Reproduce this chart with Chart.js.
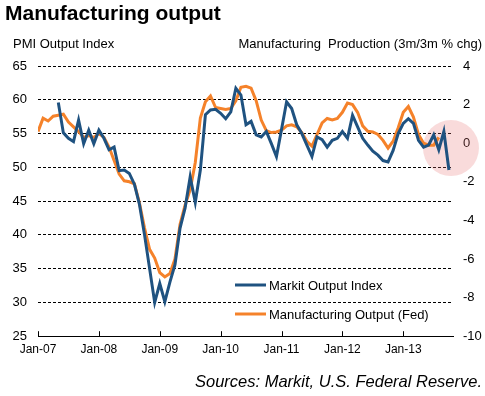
<!DOCTYPE html>
<html><head><meta charset="utf-8">
<script src="https://cdn.jsdelivr.net/npm/chart.js@4"></script>
<style>html,body{margin:0;padding:0;background:#fff;}#wrap{width:485px;height:396px;}</style>
</head><body><div id="wrap"><canvas id="c" width="485" height="396"></canvas></div>
<script>
// ---- data (month index 0 = Jan-07) ----
const yearTickLabels = ['Jan-07','Jan-08','Jan-09','Jan-10','Jan-11','Jan-12','Jan-13'];
const markitLabel = 'Markit Output Index';
const markitStartMonth = 4;
const markitOutputIndex = [
  59.6,55.1,54.3,53.8,57.0,53.5,55.5,53.5,55.5,54.3,
  52.6,53.0,49.5,49.6,49.1,47.5,44.5,40.0,35.0,30.0,
  32.8,30.1,33.0,35.6,41.0,44.0,48.6,44.8,49.6,57.8,
  58.5,58.6,58.0,57.2,58.2,61.7,60.7,56.3,56.8,54.8,
  54.5,55.3,53.5,51.6,55.6,59.7,58.7,56.3,55.0,53.3,
  51.6,54.5,54.1,53.0,54.0,54.3,55.3,54.3,57.7,56.0,
  54.3,53.3,52.4,51.8,51.0,50.8,52.5,55.0,56.5,57.2,
  56.5,54.0,53.0,53.3,54.8,52.6,55.3,49.6];
const fedLabel = 'Manufacturing Output (Fed)';
const fedStartMonth = 0;
const fedManufacturingOutput = [
  0.6,1.3,1.15,1.4,1.45,1.5,1.1,0.85,0.6,0.3,
  0.4,0.3,0.5,0.3,-0.2,-0.9,-1.6,-1.95,-2.0,-2.1,
  -3.1,-4.4,-5.5,-5.95,-6.7,-6.93,-6.75,-6.0,-4.2,-3.2,
  -2.4,-1.0,1.3,2.15,2.45,1.85,1.8,1.75,1.8,2.2,
  2.9,2.95,2.85,2.2,1.2,0.65,0.55,0.58,0.67,0.9,
  0.95,0.85,0.55,0.1,-0.15,0.45,1.05,1.28,1.2,1.28,
  1.6,2.08,2.0,1.6,0.9,0.62,0.58,0.45,0.15,-0.25,
  0.1,0.8,1.6,1.9,1.35,0.45,0.0,-0.1,-0.1,0.3];
const leftAxisTitle = 'PMI Output Index';
const rightAxisTitle = 'Manufacturing  Production (3m/3m % chg)';
const chartTitle = 'Manufacturing output';
const sourceNote = 'Sources: Markit, U.S. Federal Reserve.';
const highlightMonth = 81.4, highlightLevel = 52.85;

// ---- styling ----
const FONT = '"Liberation Sans", Arial, sans-serif';
const BLUE = '#1F5280', ORANGE = '#F5822A';

const toPts = (start, arr) => arr.map((v, i) => ({x: start + i, y: v}));

const extras = {
  id: 'extras',
  beforeDatasetsDraw(chart) {
    const {ctx, scales} = chart;
    const cx = scales.x.getPixelForValue(highlightMonth);
    const cy = scales.yL.getPixelForValue(highlightLevel);
    ctx.save();
    ctx.fillStyle = 'rgba(232,110,110,0.25)';
    ctx.beginPath(); ctx.arc(cx, cy, 28, 0, Math.PI * 2); ctx.fill();
    ctx.restore();
  },
  afterDatasetsDraw(chart) {
    const {ctx, chartArea: ca, scales} = chart;
    ctx.save();
    ctx.strokeStyle = '#000'; ctx.lineWidth = 1;
    scales.x.ticks.forEach(t => {
      const x = Math.round(scales.x.getPixelForValue(t.value)) + 0.5;
      ctx.beginPath(); ctx.moveTo(x, ca.bottom); ctx.lineTo(x, ca.bottom - 5); ctx.stroke();
    });
    ctx.font = '13px ' + FONT; ctx.textBaseline = 'middle'; ctx.textAlign = 'left';
    chart.data.datasets.forEach((ds, i) => {
      const y = ca.top + 219 + i * 29;
      const x0 = ca.left + 197;
      ctx.strokeStyle = ds.borderColor; ctx.lineWidth = 3;
      ctx.beginPath(); ctx.moveTo(x0, y); ctx.lineTo(x0 + 31, y); ctx.stroke();
      ctx.fillStyle = '#000';
      ctx.fillText(ds.label, x0 + 34, y + 1);
    });
    ctx.font = '13px ' + FONT;
    ctx.fillStyle = '#000';
    ctx.textAlign = 'left';
    ctx.fillText(leftAxisTitle, 13, ca.top - 22);
    ctx.textAlign = 'right';
    ctx.fillText(rightAxisTitle, 482, ca.top - 22);
    ctx.restore();
  }
};

new Chart(document.getElementById('c'), {
  type: 'line',
  data: {
    datasets: [
      {label: markitLabel, data: toPts(markitStartMonth, markitOutputIndex), yAxisID: 'yL',
       borderColor: BLUE, borderWidth: 3, pointRadius: 0, tension: 0, fill: false},
      {label: fedLabel, data: toPts(fedStartMonth, fedManufacturingOutput), yAxisID: 'yR',
       borderColor: ORANGE, borderWidth: 3, pointRadius: 0, tension: 0, fill: false}
    ]
  },
  options: {
    responsive: false, animation: false, devicePixelRatio: 1,
    layout: {padding: {left: 5, right: 3, top: 0, bottom: 0}},
    plugins: {
      legend: {display: false},
      tooltip: {enabled: false},
      title: {display: true, text: chartTitle, align: 'start', color: '#000',
        font: {family: FONT, size: 21, weight: 'bold'}, padding: {top: 2, bottom: 38.8}},
      subtitle: {display: true, text: sourceNote, position: 'bottom', align: 'end', color: '#000',
        font: {family: FONT, size: 16.5, style: 'italic'}, padding: {top: 12, bottom: 4}}
    },
    scales: {
      x: {type: 'linear', min: 0, max: 81.8,
        afterBuildTicks: s => { s.ticks = yearTickLabels.map((_, i) => ({value: i * 12})); },
        afterFit: s => { s.height = 24; },
        ticks: {autoSkip: false, maxRotation: 0, padding: 6, color: '#000',
          font: {family: FONT, size: 12}, callback: v => yearTickLabels[Math.round(v / 12)]},
        grid: {drawOnChartArea: false, drawTicks: false},
        border: {display: true, color: '#000', width: 1}},
      yL: {position: 'left', min: 25, max: 65,
        afterFit: s => { s.width = 33; },
        ticks: {stepSize: 5, padding: 11, color: '#000', font: {family: FONT, size: 13}},
        grid: {color: '#000', lineWidth: 1, drawTicks: false},
        border: {display: false, dash: [3, 2]}},
      yR: {position: 'right', min: -10, max: 4,
        afterFit: s => { s.width = 29; },
        ticks: {stepSize: 2, padding: 10, color: '#000', font: {family: FONT, size: 13}},
        grid: {drawOnChartArea: false, drawTicks: false},
        border: {display: false}}
    }
  },
  plugins: [extras]
});
</script></body></html>
